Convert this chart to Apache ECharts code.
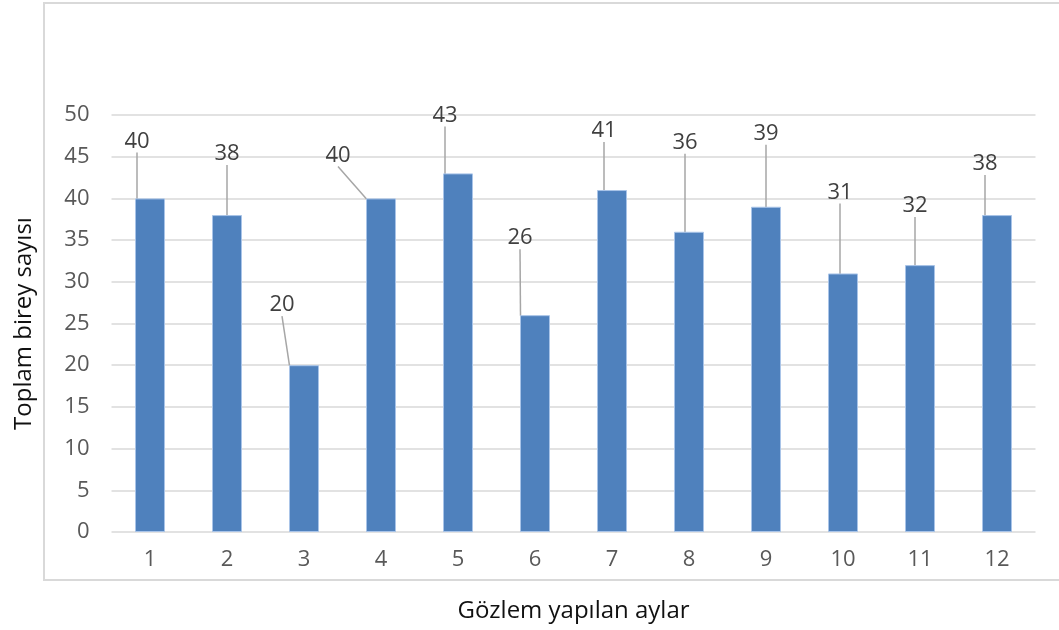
<!DOCTYPE html>
<html>
<head>
<meta charset="utf-8">
<title>Gözlem yapılan aylar</title>
<script src="https://cdn.jsdelivr.net/npm/echarts@6/dist/echarts.min.js"></script>
<style>
  html, body { margin: 0; padding: 0; background: #fff; }
  #chart { width: 1059px; height: 630px; }
</style>
</head>
<body>
<div id="chart"></div>
<script>
// data
const months = ['1', '2', '3', '4', '5', '6', '7', '8', '9', '10', '11', '12']
const totals = [40, 38, 20, 40, 43, 26, 41, 36, 39, 31, 32, 38]
const yTicks = [0, 5, 10, 15, 20, 25, 30, 35, 40, 45, 50]

// where each value label was dragged to (px, from its default "top" spot)
const labelShift = [
  [-13, -41], [0, -45], [-22, -44], [-43, -27], [-13, -42], [-15, -61],
  [-8, -43], [-4, -73], [0, -57], [-3, -65], [-5, -43], [-12, -35]
]

const chart = echarts.init(document.getElementById('chart'))

chart.setOption({
  animation: false,
  textStyle: { fontFamily: '"Open Sans", sans-serif' },
  graphic: [
    {
      type: 'rect',
      shape: { x: 44, y: 3, width: 1030, height: 577 },
      style: { fill: 'none', stroke: '#d9d9d9', lineWidth: 2 },
      silent: true
    }
  ],
  grid: { left: 111.5, right: 23.5, top: 115, bottom: 98, outerBoundsMode: 'none', containLabel: false },
  xAxis: {
    type: 'category',
    data: months,
    name: 'Gözlem yapılan aylar',
    nameLocation: 'middle',
    nameGap: 67,
    nameTextStyle: { fontSize: 24, color: '#111' },
    axisLine: { show: false },
    axisTick: { show: false },
    axisLabel: { fontSize: 22, color: '#595959', margin: 17 }
  },
  yAxis: {
    type: 'value',
    min: yTicks[0],
    max: yTicks[yTicks.length - 1],
    interval: yTicks[1] - yTicks[0],
    name: 'Toplam birey sayısı',
    nameLocation: 'middle',
    nameGap: 75,
    nameTextStyle: { fontSize: 24, color: '#111' },
    axisLine: { show: false },
    axisTick: { show: false },
    axisLabel: { fontSize: 22, color: '#595959', margin: 22 },
    splitLine: { lineStyle: { color: '#d9d9d9', width: 1.5 } }
  },
  series: [
    {
      type: 'bar',
      data: totals,
      barWidth: 30,
      itemStyle: { color: '#4f81bd', borderColor: '#a9c4e8', borderWidth: 1 },
      label: {
        show: true,
        position: 'top',
        distance: 5,
        fontSize: 22,
        color: '#404040'
      },
      labelLine: {
        show: true,
        lineStyle: { color: '#a6a6a6', width: 1.5 }
      },
      labelLayout: (params) => {
        const s = labelShift[params.dataIndex]
        return { dx: s[0], dy: s[1] }
      }
    }
  ]
})

window.addEventListener('resize', () => chart.resize())
</script>
</body>
</html>
